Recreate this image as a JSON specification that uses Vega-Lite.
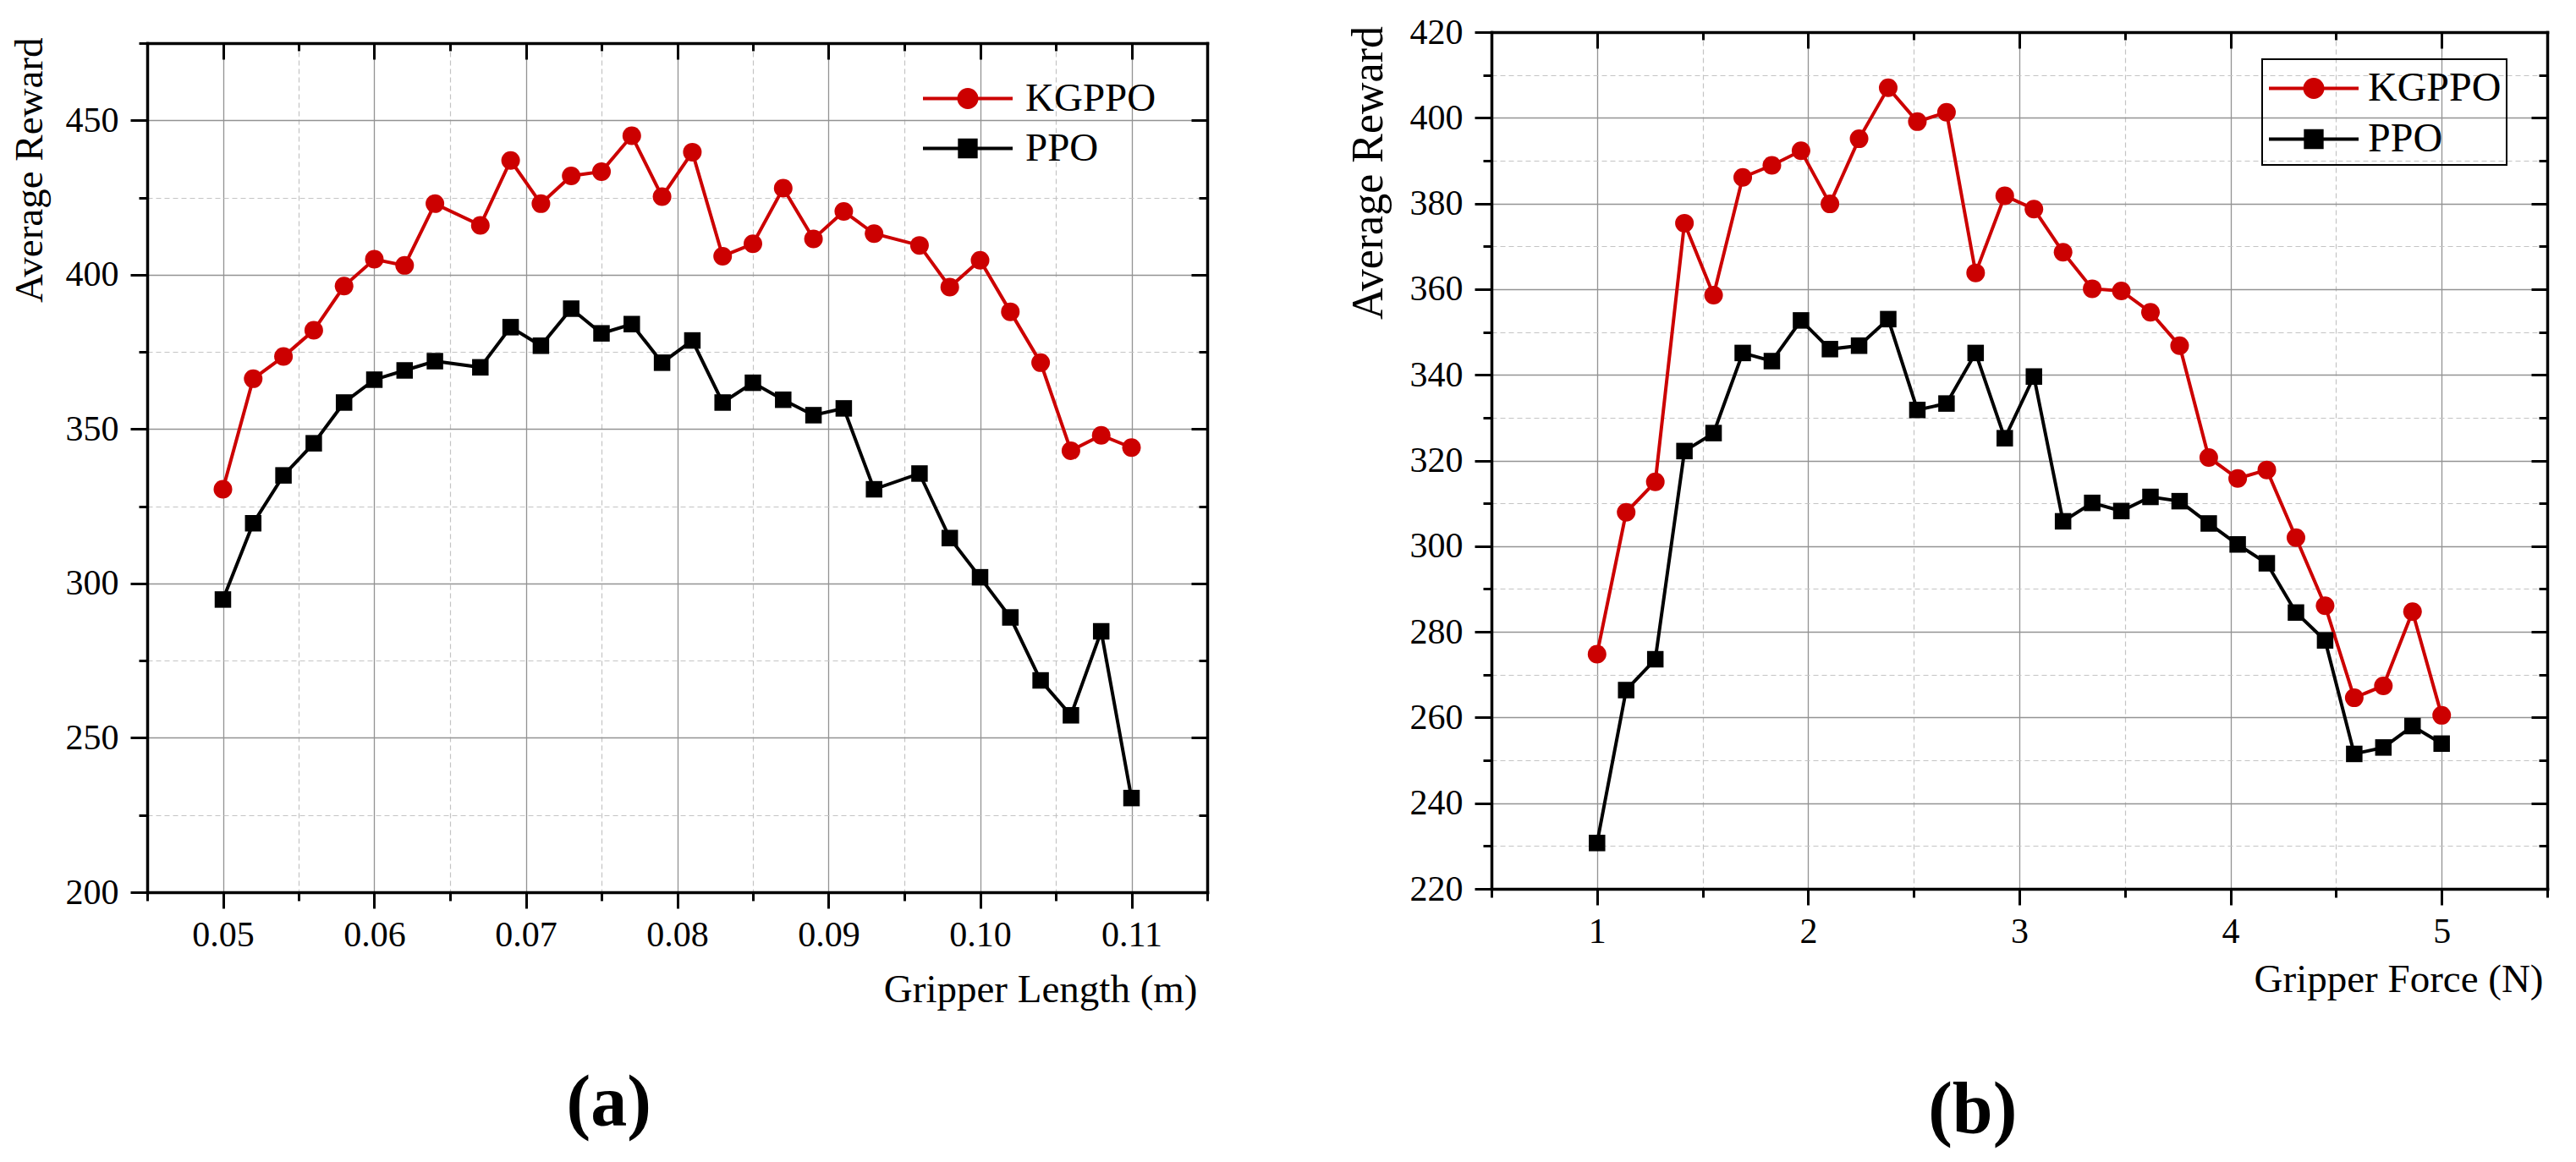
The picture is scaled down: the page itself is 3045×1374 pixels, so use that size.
{
  "$schema": "https://vega.github.io/schema/vega-lite/v6.json",
  "background": "white",
  "padding": {"left": 10, "top": 17, "right": 5, "bottom": 5},
  "spacing": 162,
  "resolve": {
    "scale": {"color": "independent", "fill": "independent", "stroke": "independent", "shape": "independent"},
    "legend": {"color": "independent", "fill": "independent", "stroke": "independent", "shape": "independent"}
  },
  "config": {
    "view": {"stroke": null},
    "font": "Liberation Serif",
    "axis": {
      "labelFont": "Liberation Serif", "labelFontSize": 42, "labelColor": "black",
      "titleFont": "Liberation Serif", "titleFontSize": 47, "titleFontWeight": "normal", "titleColor": "black",
      "tickColor": "black", "tickWidth": 3, "domainColor": "black", "domainWidth": 3.5, "domainCap": "square",
      "minExtent": 0, "labelPadding": 14
    },
    "legend": {"labelFont": "Liberation Serif", "labelColor": "black", "strokeWidth": 2}
  },
  "datasets": {
    "a": [
      {"x": 0.050, "y": 330.5, "s": "KGPPO"}, {"x": 0.052, "y": 366.3, "s": "KGPPO"}, {"x": 0.054, "y": 373.5, "s": "KGPPO"},
      {"x": 0.056, "y": 382.0, "s": "KGPPO"}, {"x": 0.058, "y": 396.3, "s": "KGPPO"}, {"x": 0.060, "y": 405.0, "s": "KGPPO"},
      {"x": 0.062, "y": 403.0, "s": "KGPPO"}, {"x": 0.064, "y": 423.0, "s": "KGPPO"}, {"x": 0.067, "y": 416.0, "s": "KGPPO"},
      {"x": 0.069, "y": 437.0, "s": "KGPPO"}, {"x": 0.071, "y": 423.0, "s": "KGPPO"}, {"x": 0.073, "y": 432.0, "s": "KGPPO"},
      {"x": 0.075, "y": 433.4, "s": "KGPPO"}, {"x": 0.077, "y": 445.0, "s": "KGPPO"}, {"x": 0.079, "y": 425.3, "s": "KGPPO"},
      {"x": 0.081, "y": 439.7, "s": "KGPPO"}, {"x": 0.083, "y": 406.0, "s": "KGPPO"}, {"x": 0.085, "y": 410.0, "s": "KGPPO"},
      {"x": 0.087, "y": 428.0, "s": "KGPPO"}, {"x": 0.089, "y": 411.6, "s": "KGPPO"}, {"x": 0.091, "y": 420.5, "s": "KGPPO"},
      {"x": 0.093, "y": 413.3, "s": "KGPPO"}, {"x": 0.096, "y": 409.5, "s": "KGPPO"}, {"x": 0.098, "y": 396.0, "s": "KGPPO"},
      {"x": 0.100, "y": 404.7, "s": "KGPPO"}, {"x": 0.102, "y": 388.0, "s": "KGPPO"}, {"x": 0.104, "y": 371.5, "s": "KGPPO"},
      {"x": 0.106, "y": 343.0, "s": "KGPPO"}, {"x": 0.108, "y": 348.0, "s": "KGPPO"}, {"x": 0.110, "y": 344.0, "s": "KGPPO"},
      {"x": 0.050, "y": 294.8, "s": "PPO"}, {"x": 0.052, "y": 319.5, "s": "PPO"}, {"x": 0.054, "y": 335.0, "s": "PPO"},
      {"x": 0.056, "y": 345.4, "s": "PPO"}, {"x": 0.058, "y": 358.6, "s": "PPO"}, {"x": 0.060, "y": 366.0, "s": "PPO"},
      {"x": 0.062, "y": 369.0, "s": "PPO"}, {"x": 0.064, "y": 372.0, "s": "PPO"}, {"x": 0.067, "y": 370.0, "s": "PPO"},
      {"x": 0.069, "y": 383.0, "s": "PPO"}, {"x": 0.071, "y": 377.0, "s": "PPO"}, {"x": 0.073, "y": 389.0, "s": "PPO"},
      {"x": 0.075, "y": 381.0, "s": "PPO"}, {"x": 0.077, "y": 384.0, "s": "PPO"}, {"x": 0.079, "y": 371.5, "s": "PPO"},
      {"x": 0.081, "y": 378.7, "s": "PPO"}, {"x": 0.083, "y": 358.6, "s": "PPO"}, {"x": 0.085, "y": 365.0, "s": "PPO"},
      {"x": 0.087, "y": 359.5, "s": "PPO"}, {"x": 0.089, "y": 354.5, "s": "PPO"}, {"x": 0.091, "y": 356.7, "s": "PPO"},
      {"x": 0.093, "y": 330.5, "s": "PPO"}, {"x": 0.096, "y": 335.6, "s": "PPO"}, {"x": 0.098, "y": 314.7, "s": "PPO"},
      {"x": 0.100, "y": 302.0, "s": "PPO"}, {"x": 0.102, "y": 289.0, "s": "PPO"}, {"x": 0.104, "y": 268.6, "s": "PPO"},
      {"x": 0.106, "y": 257.3, "s": "PPO"}, {"x": 0.108, "y": 284.5, "s": "PPO"}, {"x": 0.110, "y": 230.5, "s": "PPO"}
    ],
    "b": [
      {"x": 1.000, "y": 274.8, "s": "KGPPO"}, {"x": 1.138, "y": 307.9, "s": "KGPPO"}, {"x": 1.276, "y": 315.0, "s": "KGPPO"},
      {"x": 1.414, "y": 375.4, "s": "KGPPO"}, {"x": 1.552, "y": 358.6, "s": "KGPPO"}, {"x": 1.690, "y": 386.1, "s": "KGPPO"},
      {"x": 1.828, "y": 388.9, "s": "KGPPO"}, {"x": 1.966, "y": 392.3, "s": "KGPPO"}, {"x": 2.103, "y": 379.9, "s": "KGPPO"},
      {"x": 2.241, "y": 395.1, "s": "KGPPO"}, {"x": 2.379, "y": 407.0, "s": "KGPPO"}, {"x": 2.517, "y": 399.1, "s": "KGPPO"},
      {"x": 2.655, "y": 401.3, "s": "KGPPO"}, {"x": 2.793, "y": 363.8, "s": "KGPPO"}, {"x": 2.931, "y": 381.8, "s": "KGPPO"},
      {"x": 3.069, "y": 378.7, "s": "KGPPO"}, {"x": 3.207, "y": 368.6, "s": "KGPPO"}, {"x": 3.345, "y": 360.1, "s": "KGPPO"},
      {"x": 3.483, "y": 359.6, "s": "KGPPO"}, {"x": 3.621, "y": 354.6, "s": "KGPPO"}, {"x": 3.759, "y": 346.8, "s": "KGPPO"},
      {"x": 3.897, "y": 320.7, "s": "KGPPO"}, {"x": 4.034, "y": 315.8, "s": "KGPPO"}, {"x": 4.172, "y": 317.8, "s": "KGPPO"},
      {"x": 4.310, "y": 302.0, "s": "KGPPO"}, {"x": 4.448, "y": 286.1, "s": "KGPPO"}, {"x": 4.586, "y": 264.6, "s": "KGPPO"},
      {"x": 4.724, "y": 267.4, "s": "KGPPO"}, {"x": 4.862, "y": 284.7, "s": "KGPPO"}, {"x": 5.000, "y": 260.5, "s": "KGPPO"},
      {"x": 1.000, "y": 230.7, "s": "PPO"}, {"x": 1.138, "y": 266.4, "s": "PPO"}, {"x": 1.276, "y": 273.6, "s": "PPO"},
      {"x": 1.414, "y": 322.2, "s": "PPO"}, {"x": 1.552, "y": 326.4, "s": "PPO"}, {"x": 1.690, "y": 345.1, "s": "PPO"},
      {"x": 1.828, "y": 343.2, "s": "PPO"}, {"x": 1.966, "y": 352.7, "s": "PPO"}, {"x": 2.103, "y": 346.0, "s": "PPO"},
      {"x": 2.241, "y": 346.8, "s": "PPO"}, {"x": 2.379, "y": 353.0, "s": "PPO"}, {"x": 2.517, "y": 331.8, "s": "PPO"},
      {"x": 2.655, "y": 333.3, "s": "PPO"}, {"x": 2.793, "y": 345.1, "s": "PPO"}, {"x": 2.931, "y": 325.2, "s": "PPO"},
      {"x": 3.069, "y": 339.6, "s": "PPO"}, {"x": 3.207, "y": 305.8, "s": "PPO"}, {"x": 3.345, "y": 310.1, "s": "PPO"},
      {"x": 3.483, "y": 308.2, "s": "PPO"}, {"x": 3.621, "y": 311.5, "s": "PPO"}, {"x": 3.759, "y": 310.5, "s": "PPO"},
      {"x": 3.897, "y": 305.3, "s": "PPO"}, {"x": 4.034, "y": 300.4, "s": "PPO"}, {"x": 4.172, "y": 296.0, "s": "PPO"},
      {"x": 4.310, "y": 284.5, "s": "PPO"}, {"x": 4.448, "y": 278.0, "s": "PPO"}, {"x": 4.586, "y": 251.5, "s": "PPO"},
      {"x": 4.724, "y": 253.0, "s": "PPO"}, {"x": 4.862, "y": 258.0, "s": "PPO"}, {"x": 5.000, "y": 253.9, "s": "PPO"}
    ]
  },
  "hconcat": [
    {
      "spacing": 0,
      "resolve": {
        "scale": {"color": "independent", "fill": "independent", "stroke": "independent", "shape": "independent"},
        "legend": {"color": "independent", "fill": "independent", "stroke": "independent", "shape": "independent"}
      },
      "vconcat": [
        {
          "width": 1, "height": 5.5,
          "data": {"values": [{"k": 1}]},
          "mark": {"type": "point", "opacity": 0, "size": 0}
        },
        {
          "width": 1253, "height": 1004,
          "data": {"name": "a"},
          "title": {"text": "(a)", "orient": "bottom", "anchor": "middle", "frame": "bounds", "font": "Liberation Serif", "fontSize": 86, "fontWeight": "bold", "color": "black", "offset": 70},
          "resolve": {"axis": {"x": "independent", "y": "independent"}},
          "layer": [
            {
              "mark": {"type": "line", "strokeWidth": 4},
              "encoding": {
                "x": {"field": "x", "type": "quantitative", "scale": {"domain": [0.045, 0.115], "nice": false, "zero": false},
                  "axis": {"orient": "bottom", "values": [0.05, 0.06, 0.07, 0.08, 0.09, 0.10, 0.11], "format": ".2f", "title": "Gripper Length (m)", "titleAnchor": "end", "titleX": 1241, "titleY": 92, "grid": true, "gridColor": "#939393", "gridWidth": 1.3, "tickSize": 19, "labelPadding": 11, "domain": true}},
                "y": {"field": "y", "type": "quantitative", "scale": {"domain": [200, 475], "nice": false, "zero": false},
                  "axis": {"orient": "left", "values": [200, 250, 300, 350, 400, 450], "title": "Average Reward", "titleAnchor": "end", "titleX": -115, "titleY": -7, "grid": true, "gridColor": "#939393", "gridWidth": 1.3, "tickSize": 20, "labelPadding": 14, "domain": true}},
                "color": {"field": "s", "type": "nominal", "scale": {"range": ["#cc0000", "#000000"]}, "legend": null}
              }
            },
            {
              "transform": [{"filter": "datum.s == 'KGPPO'"}],
              "mark": {"type": "point", "shape": "circle", "filled": true, "size": 484, "opacity": 1},
              "encoding": {
                "x": {"field": "x", "type": "quantitative", "scale": {"domain": [0.045, 0.115], "nice": false, "zero": false},
                  "axis": {"orient": "bottom", "values": [0.045, 0.055, 0.065, 0.075, 0.085, 0.095, 0.105, 0.115], "grid": true, "gridDash": [6, 4], "gridColor": "#c4c4c4", "gridWidth": 1.2, "tickSize": 10, "labels": false, "domain": false, "title": null}},
                "y": {"field": "y", "type": "quantitative", "scale": {"domain": [200, 475], "nice": false, "zero": false},
                  "axis": {"orient": "left", "values": [225, 275, 325, 375, 425, 475], "grid": true, "gridDash": [6, 4], "gridColor": "#c4c4c4", "gridWidth": 1.2, "tickSize": 10, "labels": false, "domain": false, "title": null}},
                "color": {"field": "s", "type": "nominal", "scale": {"range": ["#cc0000", "#000000"]}, "legend": null}
              }
            },
            {
              "transform": [{"filter": "datum.s == 'PPO'"}],
              "mark": {"type": "point", "shape": "square", "filled": true, "size": 380, "opacity": 1},
              "encoding": {
                "x": {"field": "x", "type": "quantitative", "scale": {"domain": [0.045, 0.115], "nice": false, "zero": false},
                  "axis": {"orient": "top", "values": [0.05, 0.06, 0.07, 0.08, 0.09, 0.10, 0.11], "grid": false, "tickSize": -19, "labels": false, "domain": true, "title": null}},
                "y": {"field": "y", "type": "quantitative", "scale": {"domain": [200, 475], "nice": false, "zero": false},
                  "axis": {"orient": "right", "values": [200, 250, 300, 350, 400, 450], "grid": false, "tickSize": -19, "labels": false, "domain": true, "title": null}},
                "color": {"field": "s", "type": "nominal", "scale": {"range": ["#cc0000", "#000000"]}, "legend": null}
              }
            },
            {
              "mark": {"type": "point", "filled": true, "size": 0, "opacity": 1, "strokeWidth": 4},
              "encoding": {
                "x": {"field": "x", "type": "quantitative", "scale": {"domain": [0.045, 0.115], "nice": false, "zero": false},
                  "axis": {"orient": "top", "values": [0.055, 0.065, 0.075, 0.085, 0.095, 0.105], "grid": false, "tickSize": -9, "labels": false, "domain": false, "title": null}},
                "y": {"field": "y", "type": "quantitative", "scale": {"domain": [200, 475], "nice": false, "zero": false},
                  "axis": {"orient": "right", "values": [225, 275, 325, 375, 425], "grid": false, "tickSize": -10, "labels": false, "domain": false, "title": null}},
                "shape": {"field": "s", "type": "nominal", "scale": {"domain": ["KGPPO", "PPO"], "range": ["M-1,0L3,0M1.396,0A0.396,0.396,0,1,1,0.604,0A0.396,0.396,0,1,1,1.396,0Z", "M-1,0L3,0M0.635,-0.365L1.365,-0.365L1.365,0.365L0.635,0.365Z"]},
                  "legend": {"title": null, "orient": "none", "legendX": 915, "legendY": 37, "symbolSize": 2809, "symbolStrokeWidth": 4, "symbolOpacity": 1, "labelFontSize": 47, "labelOffset": 66, "rowPadding": 7, "padding": 0}},
                "fill": {"field": "s", "type": "nominal", "scale": {"domain": ["KGPPO", "PPO"], "range": ["#cc0000", "#000000"]},
                  "legend": {"title": null, "orient": "none", "legendX": 915, "legendY": 37, "symbolSize": 2809, "symbolStrokeWidth": 4, "symbolOpacity": 1, "labelFontSize": 47, "labelOffset": 66, "rowPadding": 7, "padding": 0}},
                "stroke": {"field": "s", "type": "nominal", "scale": {"domain": ["KGPPO", "PPO"], "range": ["#cc0000", "#000000"]},
                  "legend": {"title": null, "orient": "none", "legendX": 915, "legendY": 37, "symbolSize": 2809, "symbolStrokeWidth": 4, "symbolOpacity": 1, "labelFontSize": 47, "labelOffset": 66, "rowPadding": 7, "padding": 0}}
              }
            }
          ]
        }
      ]
    },
    {
      "width": 1248, "height": 1013,
      "data": {"name": "b"},
      "title": {"text": "(b)", "orient": "bottom", "anchor": "middle", "frame": "bounds", "font": "Liberation Serif", "fontSize": 86, "fontWeight": "bold", "color": "black", "offset": 90, "dx": 30},
      "resolve": {"axis": {"x": "independent", "y": "independent"}},
      "layer": [
        {
          "mark": {"type": "line", "strokeWidth": 4},
          "encoding": {
            "x": {"field": "x", "type": "quantitative", "scale": {"domain": [0.5, 5.5], "nice": false, "zero": false},
              "axis": {"orient": "bottom", "values": [1, 2, 3, 4, 5], "format": "d", "title": "Gripper Force (N)", "titleAnchor": "end", "titleX": 1243, "titleY": 84, "grid": true, "gridColor": "#939393", "gridWidth": 1.3, "tickSize": 19, "labelPadding": 11, "domain": true}},
            "y": {"field": "y", "type": "quantitative", "scale": {"domain": [220, 420], "nice": false, "zero": false},
              "axis": {"orient": "left", "values": [220, 240, 260, 280, 300, 320, 340, 360, 380, 400, 420], "title": "Average Reward", "titleFontSize": 52, "titleAnchor": "end", "titleX": -119, "titleY": -7.5, "grid": true, "gridColor": "#939393", "gridWidth": 1.3, "tickSize": 20, "labelPadding": 14, "domain": true}},
            "color": {"field": "s", "type": "nominal", "scale": {"range": ["#cc0000", "#000000"]}, "legend": null}
          }
        },
        {
          "transform": [{"filter": "datum.s == 'KGPPO'"}],
          "mark": {"type": "point", "shape": "circle", "filled": true, "size": 484, "opacity": 1},
          "encoding": {
            "x": {"field": "x", "type": "quantitative", "scale": {"domain": [0.5, 5.5], "nice": false, "zero": false},
              "axis": {"orient": "bottom", "values": [0.5, 1.5, 2.5, 3.5, 4.5, 5.5], "grid": true, "gridDash": [6, 4], "gridColor": "#c4c4c4", "gridWidth": 1.2, "tickSize": 10, "labels": false, "domain": false, "title": null}},
            "y": {"field": "y", "type": "quantitative", "scale": {"domain": [220, 420], "nice": false, "zero": false},
              "axis": {"orient": "left", "values": [230, 250, 270, 290, 310, 330, 350, 370, 390, 410], "grid": true, "gridDash": [6, 4], "gridColor": "#c4c4c4", "gridWidth": 1.2, "tickSize": 10, "labels": false, "domain": false, "title": null}},
            "color": {"field": "s", "type": "nominal", "scale": {"range": ["#cc0000", "#000000"]}, "legend": null}
          }
        },
        {
          "transform": [{"filter": "datum.s == 'PPO'"}],
          "mark": {"type": "point", "shape": "square", "filled": true, "size": 380, "opacity": 1},
          "encoding": {
            "x": {"field": "x", "type": "quantitative", "scale": {"domain": [0.5, 5.5], "nice": false, "zero": false},
              "axis": {"orient": "top", "values": [1, 2, 3, 4, 5], "grid": false, "tickSize": -19, "labels": false, "domain": true, "title": null}},
            "y": {"field": "y", "type": "quantitative", "scale": {"domain": [220, 420], "nice": false, "zero": false},
              "axis": {"orient": "right", "values": [220, 240, 260, 280, 300, 320, 340, 360, 380, 400, 420], "grid": false, "tickSize": -19, "labels": false, "domain": true, "title": null}},
            "color": {"field": "s", "type": "nominal", "scale": {"range": ["#cc0000", "#000000"]}, "legend": null}
          }
        },
        {
          "mark": {"type": "point", "filled": true, "size": 0, "opacity": 1, "strokeWidth": 4},
          "encoding": {
            "x": {"field": "x", "type": "quantitative", "scale": {"domain": [0.5, 5.5], "nice": false, "zero": false},
              "axis": {"orient": "top", "values": [1.5, 2.5, 3.5, 4.5], "grid": false, "tickSize": -9, "labels": false, "domain": false, "title": null}},
            "y": {"field": "y", "type": "quantitative", "scale": {"domain": [220, 420], "nice": false, "zero": false},
              "axis": {"orient": "right", "values": [230, 250, 270, 290, 310, 330, 350, 370, 390, 410], "grid": false, "tickSize": -10, "labels": false, "domain": false, "title": null}},
            "shape": {"field": "s", "type": "nominal", "scale": {"domain": ["KGPPO", "PPO"], "range": ["M-1,0L3,0M1.396,0A0.396,0.396,0,1,1,0.604,0A0.396,0.396,0,1,1,1.396,0Z", "M-1,0L3,0M0.635,-0.365L1.365,-0.365L1.365,0.365L0.635,0.365Z"]},
              "legend": {"title": null, "orient": "none", "legendX": 911, "legendY": 32, "symbolSize": 2809, "symbolStrokeWidth": 4, "symbolOpacity": 1, "labelFontSize": 48, "labelOffset": 62, "rowPadding": 7, "padding": 6, "strokeColor": "black"}},
            "fill": {"field": "s", "type": "nominal", "scale": {"domain": ["KGPPO", "PPO"], "range": ["#cc0000", "#000000"]},
              "legend": {"title": null, "orient": "none", "legendX": 911, "legendY": 32, "symbolSize": 2809, "symbolStrokeWidth": 4, "symbolOpacity": 1, "labelFontSize": 48, "labelOffset": 62, "rowPadding": 7, "padding": 6, "strokeColor": "black"}},
            "stroke": {"field": "s", "type": "nominal", "scale": {"domain": ["KGPPO", "PPO"], "range": ["#cc0000", "#000000"]},
              "legend": {"title": null, "orient": "none", "legendX": 911, "legendY": 32, "symbolSize": 2809, "symbolStrokeWidth": 4, "symbolOpacity": 1, "labelFontSize": 48, "labelOffset": 62, "rowPadding": 7, "padding": 6, "strokeColor": "black"}}
          }
        }
      ]
    }
  ]
}
